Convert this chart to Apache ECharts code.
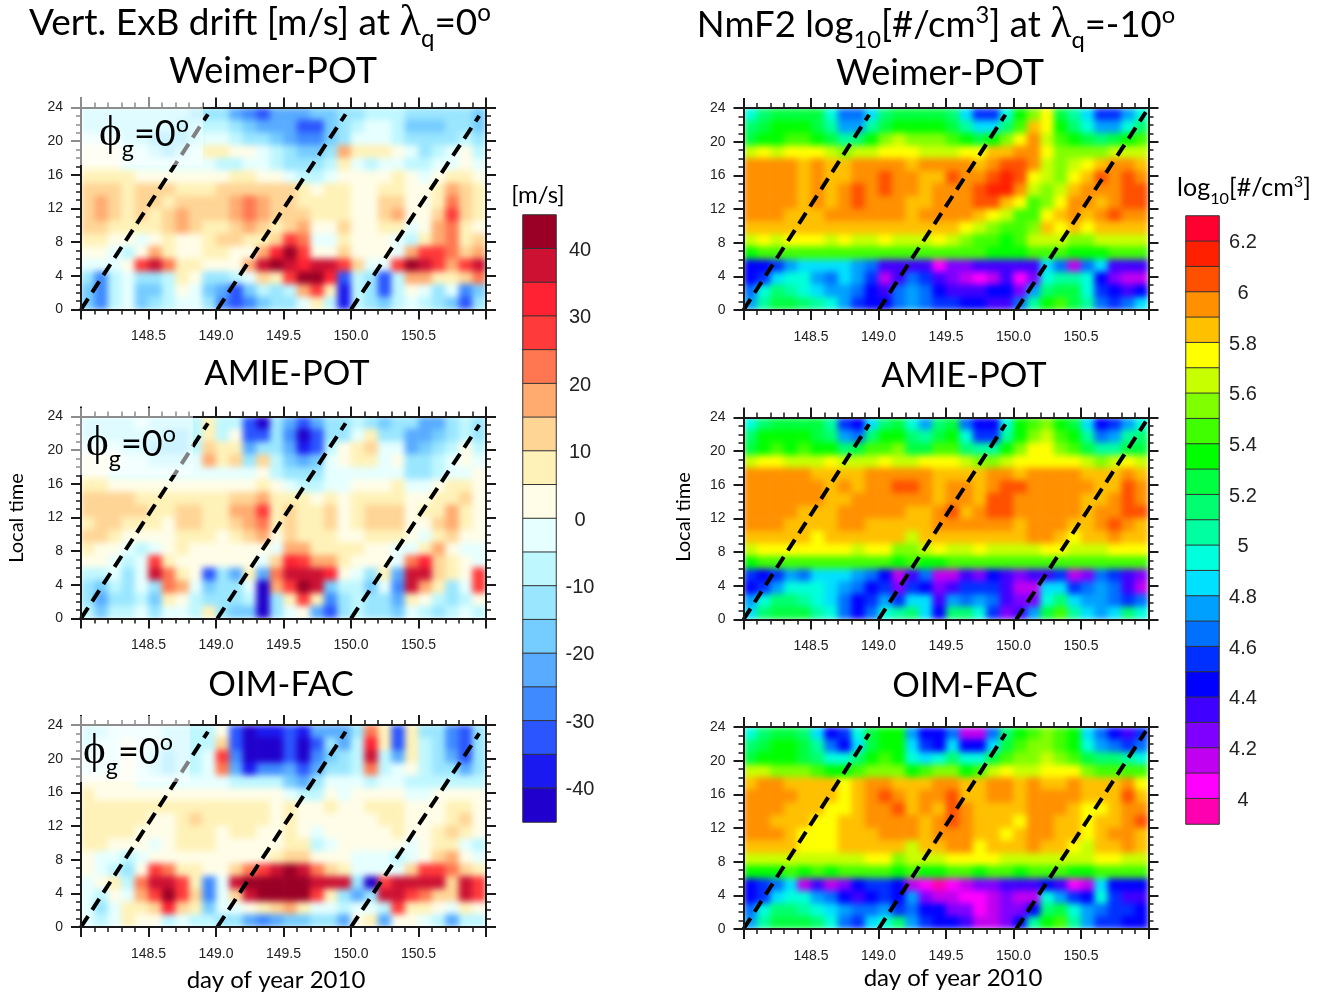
<!DOCTYPE html>
<html><head><meta charset="utf-8"><style>html,body{margin:0;padding:0;background:#fff}#c{width:1324px;height:996px}</style>
<script src="https://cdn.jsdelivr.net/npm/echarts@6/dist/echarts.min.js"></script></head><body><div id="c"></div>
<script>
// rows run from 24 LT (top) to 0 LT (bottom), 1.5 h each; columns run from day 148.0 to 151.0, 0.1 day each
const exbWeimer=[
[-8,-8,-8,-8,-6,-8,-8,-8,-10,-14,-12,-20,-28,-30,-22,-22,-20,-18,-18,-14,-10,-8,-6,-8,-12,-14,-14,-10,-12,-18],
[-5,-5,-6,-8,-8,-8,-8,-10,-8,-8,-8,-12,-18,-20,-20,-24,-30,-30,-18,-10,-6,-4,-3,-8,-16,-16,-16,-12,-10,-16],
[-3,-3,-4,-6,-8,-10,-12,-10,-6,-3,-3,-6,-10,-14,-18,-22,-26,-26,-16,-10,-3,-2,-2,-8,-12,-14,-12,-10,-6,-10],
[1,1,1,-2,-4,-8,-10,-8,-1,8,8,4,2,-2,-6,-12,-16,-16,-10,20,6,6,8,4,-4,-10,-6,-4,2,-6],
[1,1,1,-1,-3,-3,-3,-4,-4,-3,-6,-8,-4,-4,-8,-12,-14,-12,-6,6,-3,-5,-3,-4,-6,-8,-3,-1,3,-1],
[6,6,6,6,4,4,4,3,3,3,3,6,6,3,1,-2,-6,-8,-3,4,1,1,4,6,1,-1,4,8,8,3],
[12,12,11,10,12,12,11,9,8,9,11,11,14,15,12,11,6,3,6,6,2,4,10,10,4,2,8,16,14,8],
[11,16,11,10,13,15,9,13,14,15,11,16,22,18,12,14,8,6,6,6,2,3,12,14,2,4,10,24,14,8],
[11,16,11,10,12,10,13,17,13,14,11,18,25,20,13,12,12,7,6,8,1,4,12,17,3,3,14,28,14,8],
[12,14,8,7,7,8,15,17,12,10,10,13,17,12,8,14,18,5,3,12,1,3,8,8,-1,3,16,22,10,5],
[8,8,4,2,-1,3,10,4,2,10,11,12,10,6,13,28,24,-4,-4,10,1,3,5,-4,-8,6,16,22,10,12],
[2,1,-3,-5,3,16,10,2,1,8,8,5,4,18,35,42,28,3,5,12,3,4,4,-1,16,28,26,24,14,18],
[-4,-4,-2,4,26,38,22,10,7,5,2,4,18,36,42,38,33,36,38,30,14,-2,-3,28,42,38,26,16,30,36],
[-14,-25,-8,-3,-14,-14,-8,6,1,-14,-14,-8,-2,12,10,30,44,42,32,-30,-8,-10,-30,-8,20,16,10,6,12,22],
[-16,-28,-8,-2,-16,-16,-6,2,-1,-16,-20,-32,-18,-6,-14,-6,20,30,6,-36,-8,-10,-30,-8,2,-2,-12,-2,-25,-16],
[-16,-25,-6,-2,-16,-14,-6,0,-1,-14,-26,-34,-28,-16,-14,-10,-3,6,-8,-36,-8,-10,-16,-6,-2,-6,-14,-16,-30,-14]];
const exbAmie=[
[-6,-6,-6,-6,-4,-8,-8,-8,-6,10,-6,-6,-30,-42,-14,-24,-32,-24,-12,-10,-8,-14,-16,-12,-12,-24,-20,-14,-8,-14],
[-5,-5,-5,-6,-8,-8,-10,-10,-6,10,-6,3,-30,-32,-12,-28,-40,-30,-12,-10,-3,6,-10,-10,-20,-22,-18,-12,-6,-14],
[-3,-3,-4,-5,-8,-12,-12,-10,-5,12,6,8,-24,-12,-10,-24,-38,-30,-8,2,8,12,-4,-4,-22,-18,-12,-8,4,-8],
[2,1,1,-2,-4,-6,-6,-5,-2,16,10,14,-12,14,-6,-16,-20,-16,-2,4,6,10,-2,2,-14,-14,-8,-3,4,-2],
[1,1,0,-1,-3,-3,-3,-3,-3,-2,-2,-2,-3,2,-6,-12,-14,-10,-4,-2,-3,-3,-3,-3,-12,-12,-8,-3,-1,1],
[6,6,5,5,4,3,3,3,3,3,3,4,4,8,2,-1,-6,-6,-3,-2,2,3,4,6,-2,-2,1,6,6,4],
[11,12,12,12,10,8,8,8,8,8,8,11,12,16,6,6,8,3,6,4,8,8,10,10,3,3,6,8,12,5],
[12,12,14,12,11,10,8,12,11,9,9,18,20,26,8,12,6,8,12,1,8,12,15,14,3,6,10,20,10,5],
[10,14,11,10,9,8,5,13,11,8,6,14,18,24,10,14,8,8,14,1,6,11,12,12,3,3,11,20,6,4],
[11,14,8,5,5,5,3,9,6,6,3,8,12,16,4,12,8,9,10,4,3,6,8,7,1,-1,8,12,2,2],
[6,4,1,-3,-6,-3,2,8,3,3,1,3,4,4,-4,20,16,6,8,8,6,4,2,-2,-4,6,16,5,-3,-3],
[2,1,-1,-8,-3,28,10,4,3,3,2,4,2,-2,14,34,28,20,18,8,4,2,2,-4,24,32,14,8,1,-1],
[-6,-8,-4,-12,0,36,24,6,2,-32,-14,-20,10,-24,24,38,40,40,34,3,-4,-12,6,-20,38,36,14,6,3,28],
[-12,-18,-8,-12,-4,-14,24,16,-1,-16,-14,-10,-2,-42,20,30,42,36,-16,-8,-8,-16,-2,-28,36,18,8,-14,-2,26],
[-10,-20,-10,-12,-8,-18,8,4,-8,-12,-14,-12,-8,-42,-14,8,26,8,-28,-10,-8,-12,-12,-20,6,4,-8,-12,-6,3],
[-8,-16,-6,-6,-4,-14,0,-2,-8,10,-14,-16,-16,-42,-14,-3,1,-24,-30,-14,-8,-10,-10,-18,-1,-8,-12,-8,-4,-6]];
const exbOim=[
[-6,-6,-4,-2,-4,-4,-6,-6,-8,-6,2,-30,-42,-38,-38,-34,-38,-24,-20,-24,-10,22,8,-30,6,-10,-14,-28,-30,-14],
[-6,-4,-4,3,-2,-4,-6,-8,-6,-6,12,-30,-42,-40,-42,-34,-40,-30,-14,-20,-8,34,6,-32,6,-6,-14,-28,-32,-14],
[-4,-3,-2,3,-2,-6,-12,-8,-6,-4,30,-28,-44,-40,-40,-30,-40,-28,-16,-14,-6,36,-8,-24,8,-8,-12,-20,-32,-12],
[-2,-2,-1,1,-3,-6,-10,-8,-6,-3,24,-20,-36,-28,-26,-24,-34,-20,-14,-10,-6,22,-6,-4,4,-8,-12,-14,-24,-10],
[1,1,1,1,-2,-3,-4,-4,-3,-2,-2,-6,-8,-6,-8,-16,-20,-14,-4,-4,-2,-6,-3,-4,-6,-6,-8,-8,-8,-6],
[6,5,4,5,3,2,3,3,3,2,2,2,3,2,1,-3,-8,-8,2,-1,1,1,1,2,-1,-2,1,3,2,1],
[7,9,10,9,8,8,6,7,8,8,6,9,8,6,4,6,3,2,8,5,2,6,6,7,4,2,3,6,10,4],
[7,9,10,8,7,5,4,9,12,8,6,8,9,6,5,9,3,2,5,2,1,5,6,7,3,1,4,10,14,4],
[7,8,7,8,5,4,3,8,10,6,4,8,7,4,4,8,2,-3,3,2,1,4,5,6,2,1,6,12,8,2],
[6,6,3,3,3,-1,2,6,6,6,3,5,4,2,3,7,6,-8,-2,2,2,2,3,2,-3,2,8,8,-4,-8],
[4,-3,-4,-6,-3,3,4,3,4,4,3,4,3,4,8,14,14,3,3,2,-2,-4,-4,-6,-4,4,12,18,4,-4],
[1,-4,-8,-14,3,28,24,8,6,4,3,12,24,28,40,44,38,24,14,6,-4,-3,-3,0,14,26,30,22,12,6],
[-3,3,10,-6,22,38,40,28,10,-28,-4,36,42,44,45,45,42,40,36,36,-14,-40,30,38,38,38,36,14,38,30],
[-4,-8,2,-2,16,30,44,30,12,-28,-2,14,38,44,45,45,44,30,6,-10,-20,-14,36,40,28,22,14,12,36,26],
[-4,-10,0,8,10,12,32,12,6,-18,-4,-2,4,10,14,16,8,-1,-3,-8,-1,-4,-6,28,10,8,4,-2,8,4],
[-3,-8,-1,8,4,4,-6,-4,-6,-6,-10,-12,-20,-26,-24,-18,-16,-10,-14,-24,4,6,-20,4,1,-4,-8,-20,-8,-8]];
const nmWeimer=[
[5,5.2,5.3,5.3,5.3,5.3,5,4.7,4.7,4.9,5.2,5.3,5.3,5.3,5.3,5.2,4.9,4.6,4.6,5,5.4,5.6,5.8,5.3,5.1,4.9,4.6,4.6,4.8,5],
[5.2,5.3,5.4,5.4,5.4,5.3,5.1,4.8,4.8,5.1,5.3,5.4,5.4,5.4,5.4,5.3,5.1,4.9,4.9,5.2,5.5,5.9,5.8,5.4,5.2,5,4.8,4.8,5,5.2],
[5.3,5.4,5.4,5.5,5.5,5.4,5.3,5.1,5.2,5.4,5.6,5.7,5.6,5.6,5.6,5.5,5.4,5.3,5.4,5.6,5.8,6,5.7,5.5,5.4,5.3,5.2,5.3,5.4,5.5],
[5.7,5.8,5.7,5.8,5.8,5.8,5.7,5.6,5.7,5.7,5.8,5.8,5.8,5.7,5.7,5.7,5.8,5.8,5.9,5.9,6,6,5.8,5.6,5.6,5.6,5.6,5.7,5.7,5.7],
[6,6,6,6,5.9,6,5.9,5.9,6,6,6,6,5.9,6,6,6,6,5.9,6,6.1,6.1,6,5.7,5.6,5.7,5.8,5.9,6,6,5.9],
[6,6,6,6,5.9,6,5.9,5.9,6,6,6.1,6,6,5.9,5.9,6.1,6,6,6.1,6.2,6.1,5.8,5.7,5.6,5.8,5.9,6.1,6,6.1,6],
[6,6,6,6,5.9,6,5.9,6,6.1,6,6.1,6,6,5.9,6,6,6,6.1,6.2,6.2,6,5.7,5.6,5.7,5.9,6,6,6,6.1,6.1],
[6,6,6,6,5.9,6,5.9,6,6.1,6,6,6,5.9,5.9,6,6,6,6.1,6.1,5.9,5.8,5.5,5.6,5.8,6,6,5.9,6,6.1,6.1],
[6,6,6,5.9,5.9,5.9,6,6,6,6,6,6,5.9,6,6,6,6,5.9,5.8,5.7,5.5,5.5,5.8,5.9,6,5.9,6,6.1,6,6],
[5.9,5.9,5.9,5.9,5.9,5.9,5.9,5.9,5.9,5.9,5.9,5.9,5.9,5.9,5.9,5.9,5.8,5.7,5.6,5.5,5.5,5.6,5.9,5.8,5.9,5.8,5.9,5.9,5.9,5.9],
[5.7,5.8,5.7,5.8,5.8,5.8,5.7,5.8,5.7,5.7,5.8,5.7,5.7,5.7,5.8,5.7,5.6,5.5,5.5,5.4,5.5,5.7,5.7,5.7,5.6,5.6,5.7,5.7,5.7,5.7],
[5.4,5.5,5.5,5.5,5.5,5.5,5.5,5.5,5.5,5.5,5.5,5.5,5.5,5.5,5.5,5.5,5.5,5.5,5.4,5.4,5.4,5.5,5.5,5.5,5.4,5.4,5.4,5.5,5.5,5.5],
[4.5,4.5,4.6,4.8,4.9,4.9,4.9,4.9,4.8,4.7,4.4,4.4,4.4,4.4,4.1,4.3,4.3,4.4,4.4,4.4,4.4,4.4,4.9,4.7,4.2,4.7,4.9,4.4,4.4,4.4],
[4.5,4.6,4.9,5,5,4.8,4.7,4.9,4.8,4.6,4.2,4.4,4.7,4.6,4.4,4.3,4.2,4.1,4.2,4.4,4.1,4.3,5,5.1,5.1,5,4.5,4.3,4.2,4.2],
[4.7,5,5.2,5.1,5,4.9,4.8,4.8,4.7,4.5,4.4,4.7,4.8,4.7,4.5,4.4,4.4,4.4,4.5,4.5,4.3,4.8,5.2,5.3,5.3,5,4.6,4.5,4.4,4.5],
[4.8,5.1,5.3,5.3,5.2,5.1,5,4.8,4.6,4.5,4.5,4.7,4.8,4.7,4.6,4.6,4.5,4.5,4.4,4.4,4.7,5.1,5.4,5.5,5.3,5.1,4.7,4.6,4.7,4.9]];
const nmAmie=[
[5,5.2,5.3,5.3,5.3,5.3,5.1,4.6,4.5,4.9,5.2,5.3,5,4.8,5.2,5.3,4.7,4.5,4.5,5,5.4,5.5,5.6,5.4,5.3,4.9,4.5,4.6,4.8,5],
[5.2,5.4,5.4,5.4,5.4,5.3,5.2,4.8,4.7,5.2,5.4,5.4,5.2,5.1,5.3,5.4,5,4.6,4.6,5.1,5.4,5.6,5.7,5.5,5.4,5.1,4.7,4.8,5.1,5.2],
[5.3,5.4,5.5,5.4,5.5,5.4,5.4,5.2,5.3,5.5,5.5,5.6,5.3,5.3,5.5,5.5,5.2,5.1,5.1,5.4,5.6,5.8,5.8,5.6,5.5,5.3,5.1,5.1,5.3,5.3],
[5.7,5.8,5.8,5.7,5.7,5.7,5.8,5.7,5.7,5.7,5.8,5.7,5.7,5.8,5.8,5.8,5.7,5.6,5.6,5.7,5.8,5.8,5.8,5.8,5.8,5.7,5.6,5.7,5.8,5.7],
[6,6,6,6,6,5.9,5.9,5.9,5.9,6,6,6,6,6,5.9,5.9,5.9,5.9,6,6,5.9,6,6,6,6,5.9,5.9,5.9,6,5.9],
[6,6,6,6,6,6,5.9,6,5.9,6,6,6.1,6.1,6,5.9,6,6,5.9,6,6.1,6.1,6,6,6,6,6,5.9,5.9,6.1,6],
[6,6,6,6,6,6,5.9,5.9,6,6,6,6,6,6,5.9,6,6,5.9,6.1,6.1,6,6,6,6,6,5.9,5.9,6,6.1,6],
[6,6,6,6,5.9,5.9,5.9,6,6,6,6,6,5.9,5.9,6,6.1,5.9,6,6.1,6.1,6,6,6,6,6,5.9,6,6,6.1,6.1],
[6,6,6,5.9,5.9,5.9,5.9,6,6,5.9,5.9,5.9,5.9,5.9,6,6,6,6,6,6,5.9,6,6,6,5.9,5.9,6,6.1,6,5.9],
[5.9,5.9,5.9,5.9,5.9,5.8,5.9,5.9,5.9,5.9,5.9,5.9,5.7,5.9,5.9,5.9,5.9,5.9,5.9,5.9,5.9,6,6,5.9,5.8,5.9,5.9,6,5.9,5.9],
[5.7,5.8,5.8,5.8,5.8,5.8,5.8,5.8,5.7,5.8,5.8,5.6,5.6,5.7,5.8,5.7,5.7,5.8,5.7,5.7,5.7,5.7,5.8,5.8,5.7,5.7,5.7,5.8,5.8,5.8],
[5.4,5.5,5.5,5.5,5.5,5.5,5.5,5.5,5.5,5.5,5.5,5.4,5.5,5.4,5.4,5.5,5.5,5.5,5.5,5.5,5.5,5.5,5.5,5.5,5.5,5.5,5.5,5.5,5.5,5.5],
[4.6,4.5,4.6,4.8,4.7,4.9,4.9,4.9,4.8,4.7,4.5,4.2,4.4,4.7,4.2,4.2,4.4,4.3,4.5,4.4,4.3,4.4,4.4,4.6,4.2,4.3,4.7,4.6,4.4,4.3],
[4.5,4.6,4.8,5,5,5,4.9,4.8,4.7,4.5,4.6,4.3,4.6,4.5,4.3,4.4,4.6,4.6,4.6,4.4,4.2,4.2,4.9,4.9,4.6,4.7,4.8,4.7,4.4,4.2],
[4.8,5,5.2,5.2,5.1,5,4.9,4.7,4.5,4.6,4.8,4.6,4.9,4.9,4.4,4.8,4.7,4.8,4.7,4.4,4.3,4.3,5,5.2,4.9,4.8,4.8,4.7,4.6,4.7],
[4.9,5.2,5.3,5.3,5.3,5.1,5,4.7,4.5,4.7,5,5.1,5.2,4.9,4.5,5.2,5.2,5,4.6,4.3,4.4,4.8,5.3,5.5,5.1,4.9,4.8,4.9,5.2,5]];
const nmOim=[
[5,5.2,5.3,5.3,5.2,4.9,4.5,4.6,5,5.3,5.4,5.4,4.8,4.5,4.5,4.7,4.2,4.2,4.7,5.2,5.4,5.5,5.6,5.5,5.4,4.9,4.7,4.5,4.4,4.6],
[5.2,5.3,5.4,5.4,5.3,5.1,4.7,4.5,4.9,5.3,5.4,5.4,4.9,4.6,4.5,4.9,4.5,4.5,4.9,5.3,5.5,5.6,5.6,5.5,5.4,5,4.8,4.7,4.6,4.7],
[5.3,5.4,5.4,5.4,5.3,5.2,5,5,5.2,5.4,5.5,5.4,5,4.9,5,5.2,5,5,5.3,5.5,5.6,5.6,5.7,5.6,5.5,5.3,5.2,5.2,5.1,5],
[5.7,5.7,5.6,5.6,5.6,5.5,5.4,5.4,5.5,5.6,5.6,5.6,5.4,5.5,5.6,5.6,5.4,5.5,5.7,5.8,5.7,5.7,5.8,5.8,5.8,5.6,5.5,5.5,5.5,5.5],
[5.9,6,6,5.9,5.9,5.9,5.9,5.8,5.9,6,6,5.9,5.9,5.9,6,6,5.9,5.9,6,6,5.9,6,5.9,5.9,6,5.9,5.9,5.9,6,5.8],
[6,6,6,6,5.9,5.9,5.9,5.8,5.9,6,6.1,6,5.9,6,6,6.1,5.9,5.9,6,6,5.9,6,6,6,6,5.9,5.9,5.9,6.1,5.9],
[6,6,6,5.9,5.9,5.9,5.8,5.8,5.9,6,6,6.1,5.9,6,5.9,6.1,6,5.9,5.9,5.9,5.9,6,6,6,5.9,5.8,5.8,5.9,6,6],
[6,6,5.9,5.9,5.9,5.8,5.8,5.9,5.9,6,6,6,6,5.9,6,6.1,6,5.9,5.9,5.9,5.8,6,6,5.9,5.9,5.8,5.9,5.9,6,6.1],
[6,6,6,5.9,5.8,5.8,5.8,5.9,5.9,5.9,6,6,6,5.9,6,6,6,5.9,5.9,5.8,5.9,6,6,5.9,5.9,5.8,5.9,6,6,5.9],
[5.9,5.9,5.9,5.9,5.8,5.8,5.8,5.9,5.9,5.9,5.9,5.9,5.7,5.9,5.9,6,6,5.8,5.9,5.9,5.9,6,5.9,5.9,5.8,5.7,5.9,5.9,6,5.9],
[5.7,5.7,5.7,5.7,5.7,5.7,5.7,5.7,5.7,5.8,5.8,5.6,5.7,5.7,5.7,5.8,5.8,5.8,5.8,5.7,5.7,5.7,5.7,5.7,5.7,5.7,5.8,5.8,5.7,5.7],
[5.4,5.4,5.4,5.5,5.4,5.5,5.4,5.5,5.5,5.5,5.5,5.4,5.5,5.4,5.4,5.5,5.5,5.4,5.5,5.5,5.4,5.5,5.5,5.5,5.4,5.4,5.5,5.5,5.5,5.5],
[4.5,4.6,4.7,4.9,4.2,4.4,4.2,4.3,4.5,4.6,4.6,4.5,4.2,4.1,4,4.1,4.2,4.3,4.3,4.4,4.4,4.4,4.5,4.4,4.1,4.2,4.9,4.5,4.5,4.5],
[4.5,4.6,4.9,5,5,4.8,4.7,4.5,4.4,4.5,4.6,4.5,4.8,4.3,4.2,4.2,4.1,4.1,4.2,4.3,4.2,4.2,5,4.8,4.6,4.5,5,4.6,4.4,4.4],
[4.7,5,5.2,5.2,5.1,5,4.9,4.8,4.7,4.7,4.8,4.6,4.7,4.5,4.5,4.3,4.3,4.1,4.2,4.3,4.3,4.5,5.2,5.3,5,4.8,4.7,4.6,4.6,4.5],
[4.8,5.1,5.3,5.3,5.3,5.2,5,4.7,4.6,4.9,5,5.2,4.8,4.6,4.5,4.5,4.4,4.2,4.2,4.3,4.5,5.1,5.4,5.5,5.1,4.8,4.6,4.6,4.5,4.5]];
const dayCells=["148.0","148.1","148.2","148.3","148.4","148.5","148.6","148.7","148.8","148.9","149.0","149.1","149.2","149.3","149.4","149.5","149.6","149.7","149.8","149.9","150.0","150.1","150.2","150.3","150.4","150.5","150.6","150.7","150.8","150.9"];
const hourCells=["0","1.5","3","4.5","6","7.5","9","10.5","12","13.5","15","16.5","18","19.5","21","22.5"];
const xTickValues=[148.5,149,149.5,150,150.5];
const dashLeft=[[[148,0],[148.94,23.2]],[[149.01,0],[149.96,23.2]],[[150,0],[150.95,23]]];
const dashRight=[[[148,0],[148.93,23.2]],[[149,0],[149.94,23.2]],[[150.02,0],[150.98,23.5]]];
// colour-bar bands, top to bottom; each value is a band's upper edge
const exbBands=[45,40,35,30,25,20,15,10,5,0,-5,-10,-15,-20,-25,-30,-35,-40];
const exbColors=["#9a0025","#cc1133","#ff2233","#ff3a3a","#ff7750","#ffab70","#ffd596","#fff2b8","#fffde8","#e6ffff","#bff7ff","#9ae6ff","#75ccff","#58abff","#3f8aff","#2a55ff","#1a1af0","#2000cc"];
const exbBarLabels=[40,30,20,10,0,-10,-20,-30,-40];
const nmBands=[6.3,6.2,6.1,6,5.9,5.8,5.7,5.6,5.5,5.4,5.3,5.2,5.1,5,4.9,4.8,4.7,4.6,4.5,4.4,4.3,4.2,4.1,4];
const nmColors=["#ff0030","#ff2000","#ff5000","#ff9000","#ffc000","#ffff00","#c8ff00","#80ff00","#40ff00","#00ff00","#00ff40","#00ff70","#00ffa0","#00ffdc","#00e0ff","#00a0ff","#0070ff","#0030ff","#0000ff","#4000ff","#8000ff","#c000f0","#ff00ff","#ff00b0"];
const nmBarLabels=[6.2,6,5.8,5.6,5.4,5.2,5,4.8,4.6,4.4,4.2,4];

const panels=[
 {d:exbWeimer,m:0,l:81,t:107.5,w:405,h:202,dash:dashLeft},
 {d:exbAmie,m:0,l:81,t:416.5,w:405,h:202,dash:dashLeft},
 {d:exbOim,m:0,l:81,t:725,w:405,h:202,dash:dashLeft},
 {d:nmWeimer,m:1,l:743.5,t:108,w:405,h:202,dash:dashRight},
 {d:nmAmie,m:1,l:743.5,t:417.5,w:405,h:202,dash:dashRight},
 {d:nmOim,m:1,l:743.5,t:727,w:405,h:202,dash:dashRight}];
const grid=[],xAxis=[],yAxis=[],series=[],mapSeries=[[],[]],frames=[];
const ink='#1a1a1a',tickFont={fontFamily:'Liberation Sans',fontSize:14,color:'#222'};
const noShow={show:false};
const mask=(x,y,w,h)=>({type:'rect',zlevel:1,z:1,silent:true,shape:{x,y,width:w,height:h},style:{fill:'#fff'}});
panels.forEach((p,g)=>{
 grid.push({left:p.l,top:p.t,width:p.w,height:p.h});
 const m=14;
 frames.push(mask(p.l-m,p.t-m,p.w+2*m,m),mask(p.l-m,p.t+p.h,p.w+2*m,m),mask(p.l-m,p.t,m,p.h),mask(p.l+p.w,p.t,m,p.h));
 const xi=xAxis.length,yi=yAxis.length;
 xAxis.push({type:'category',gridIndex:g,data:dayCells,show:false,boundaryGap:true});
 yAxis.push({type:'category',gridIndex:g,data:hourCells,show:false,boundaryGap:true});
 const vx=(pos,lab)=>({type:'value',gridIndex:g,position:pos,min:148,max:151,interval:0.5,z:10,zlevel:1,
  axisLine:{show:true,onZero:false,lineStyle:{color:ink,width:2}},
  axisTick:{show:true,length:10,lineStyle:{color:ink,width:2}},
  minorTick:{show:true,splitNumber:5,length:5,lineStyle:{color:ink,width:1.5}},
  splitLine:noShow,
  axisLabel:lab?{show:true,customValues:xTickValues,formatter:v=>v.toFixed(1),margin:20,...tickFont}:noShow});
 const vy=(pos,lab)=>({type:'value',gridIndex:g,position:pos,min:0,max:24,interval:4,z:10,zlevel:1,
  axisLine:{show:true,onZero:false,lineStyle:{color:ink,width:2}},
  axisTick:{show:true,length:10,lineStyle:{color:ink,width:2}},
  minorTick:{show:true,splitNumber:4,length:5,lineStyle:{color:ink,width:1.5}},
  splitLine:noShow,
  axisLabel:lab?{show:true,margin:18,...tickFont}:noShow});
 xAxis.push(vx('bottom',true),vx('top',false));
 yAxis.push(vy('left',true),vy('right',false));
 const cells=[];
 p.d.forEach((row,i)=>row.forEach((v,j)=>cells.push([j,p.d.length-1-i,v])));
 mapSeries[p.m].push(series.length);
 series.push({type:'heatmap',xAxisIndex:xi,yAxisIndex:yi,data:cells,z:1,zlevel:0,itemStyle:{borderWidth:0},progressive:0,animation:false});
 p.dash.forEach(seg=>series.push({type:'line',xAxisIndex:xi+1,yAxisIndex:yi+1,data:seg,symbol:'none',z:5,zlevel:1,silent:true,clip:false,
   lineStyle:{color:'#000',width:4,type:[13,7.5]}}));
});
// colour bars: the block column, plus a label scale on its own grid set 1.5 px lower
[{l:523,t:215,w:33,h:607,bands:exbBands,labels:exbBarLabels,min:-45,max:45,m:0},
 {l:1186,t:216,w:33,h:608,bands:nmBands,labels:nmBarLabels,min:3.9,max:6.3,m:1}].forEach(b=>{
 const g=grid.length;grid.push({left:b.l,top:b.t,width:b.w,height:b.h},{left:b.l,top:b.t+1.5,width:b.w,height:b.h});
 const xi=xAxis.length,yi=yAxis.length;
 xAxis.push({type:'category',gridIndex:g,data:['bar'],show:false},{type:'category',gridIndex:g+1,data:['bar'],show:false});
 yAxis.push({type:'category',gridIndex:g,inverse:true,data:b.bands.map(String),show:false});
 yAxis.push({type:'value',gridIndex:g+1,position:'right',min:b.min,max:b.max,z:10,zlevel:1,axisLine:noShow,axisTick:noShow,splitLine:noShow,
  axisLabel:{show:true,customValues:b.labels,align:'center',margin:24,fontFamily:'Liberation Sans',fontSize:20,color:'#222',formatter:v=>String(v)}});
 mapSeries[b.m].push(series.length);
 series.push({type:'heatmap',xAxisIndex:xi,yAxisIndex:yi,data:b.bands.map((v,i)=>[0,i,v]),z:1,zlevel:1,itemStyle:{borderColor:'#333',borderWidth:1}});
});
const pieces=(bands,colors,low)=>bands.map((hi,i)=>({gt:i<bands.length-1?bands[i+1]:low,lte:hi,color:colors[i]}));
const visualMap=[
 {type:'piecewise',show:false,dimension:2,seriesIndex:mapSeries[0],pieces:pieces(exbBands,exbColors,-45)},
 {type:'piecewise',show:false,dimension:2,seriesIndex:mapSeries[1],pieces:pieces(nmBands,nmColors,3.9)}];

// text
const sans='Lato',sym='Liberation Serif';
const rich=s=>({a:{fontFamily:sans,fontSize:s,color:'#111',lineHeight:s*1.5},
 g:{fontFamily:sym,fontSize:s*1.2,color:'#111',lineHeight:s*1.5},
 b:{fontFamily:sans,fontSize:s*.65,color:'#111',lineHeight:s*1.3,verticalAlign:'bottom'},
 p:{fontFamily:sans,fontSize:s*.65,color:'#111',lineHeight:s*1.5,verticalAlign:'top',padding:[s/6,0,0,0]}});
const txt=(x,y,text,s,extra)=>({type:'text',x,y,z:60,zlevel:1,...extra,style:{text,rich:rich(s),align:'center',verticalAlign:'middle'}});
const veil=(x,y,w,h)=>({type:'rect',z:50,zlevel:1,shape:{x,y,width:w,height:h},style:{fill:'rgba(255,255,255,0.5)'}});
const graphic=[...frames,
 veil(70,98,133,67),veil(70,408,123,67),veil(70,716,120,66),
 txt(260,23,'{a|Vert. ExB drift [m/s] at }{g|λ}{b|q}{a|=0}{p|o}',37),
 txt(273,71,'{a|Weimer-POT}',36),txt(287,374,'{a|AMIE-POT}',34.5),txt(281,685,'{a|OIM-FAC}',34.5),
 txt(936,25,'{a|NmF2 log}{b|10}{a|[#/cm}{p|3}{a|] at }{g|λ}{b|q}{a|=-10}{p|o}',36.5),
 txt(940,73,'{a|Weimer-POT}',36),txt(964,376,'{a|AMIE-POT}',34.5),txt(965,686,'{a|OIM-FAC}',34.5),
 txt(538,195,'{a|[m/s]}',24),txt(1244,188,'{a|log}{b|10}{a|[#/cm}{p|3}{a|]}',25),
 txt(17,518,'{a|Local time}',20,{rotation:Math.PI/2}),txt(684,517,'{a|Local time}',20,{rotation:Math.PI/2}),
 txt(276,980,'{a|day of year 2010}',24),txt(953,978,'{a|day of year 2010}',24),
 txt(144,134,'{g|ϕ}{b|g}{a|=0}{p|o}',36),txt(131,444,'{g|ϕ}{b|g}{a|=0}{p|o}',36),txt(128,752,'{g|ϕ}{b|g}{a|=0}{p|o}',36)];

const chart=echarts.init(document.getElementById('c'),null,{renderer:'canvas',width:1324,height:996});
chart.setOption({animation:false,backgroundColor:'#fff',grid,xAxis,yAxis,series,visualMap,graphic});
// soften the cell edges of the field layer, as the resampled reference image shows them
const softenField=()=>{const first=document.querySelector('#c canvas');if(first)first.style.filter='blur(3px)';};
softenField();chart.on('finished',softenField);
</script></body></html>
